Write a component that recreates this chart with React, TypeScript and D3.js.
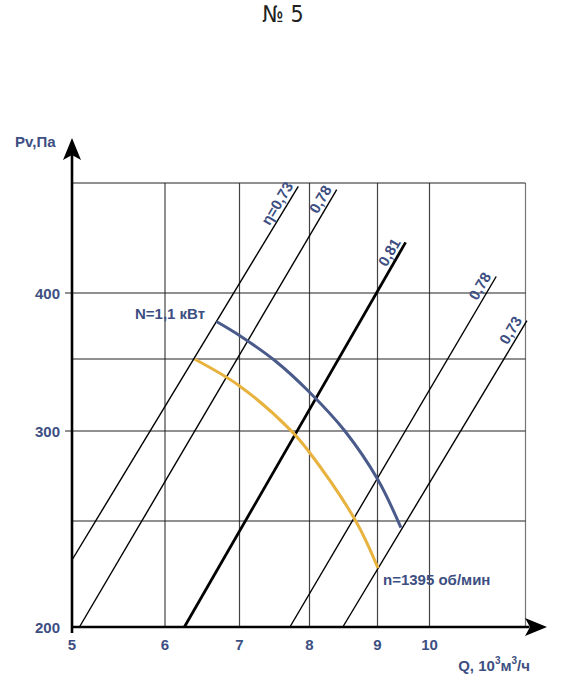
import { useEffect, useRef } from "react";
import * as d3 from "d3";

// axis values
const qTicks = [5, 6, 7, 8, 9, 10];
const qGrid = [6, 7, 8, 9, 10, 12];
const pTicks = [200, 300, 400];
const pGrid = [250, 300, 350, 400, 500];

// efficiency lines (Q, Pv at both ends)
const etaValues = [0.73, 0.78, 0.81, 0.78, 0.73];
const etaLabels = ["η=0,73", "0,78", "0,81", "0,78", "0,73"];
const etaFrom: [number, number][] = [
  [5, 231.6],
  [5.08, 200],
  [6.26, 200],
  [7.72, 200],
  [8.49, 200],
];
const etaTo: [number, number][] = [
  [7.84, 497],
  [8.4, 494],
  [9.54, 446],
  [11.39, 415],
  [12.03, 379],
];

// fan curves
const upperQ = [6.69, 7.0, 7.53, 7.99, 8.52, 9.0, 9.45];
const upperP = [378.4, 367.8, 347.9, 327.4, 300, 273.3, 246.9];
const lowerQ = [6.4, 7.0, 7.74, 7.99, 8.68, 9.01];
const lowerP = [349.8, 331.3, 300.1, 288.6, 250, 227.8];

const TEXT = "#3d4f82";
const FONT = "'Liberation Sans', Arial, sans-serif";

export default function App() {
  const svgRef = useRef<SVGSVGElement>(null);

  useEffect(() => {
    if (!svgRef.current) return;
    const svg = d3.select(svgRef.current);
    svg.selectAll("*").remove();

    // the printed chart is log-log but hand drawn, so map tick to tick
    const x = d3
      .scaleLinear()
      .domain([5, 6, 7, 8, 9, 10, 12])
      .range([72, 165, 239.5, 309.5, 377.5, 429.5, 525.5]);
    const y = d3
      .scaleLinear()
      .domain([200, 250, 300, 350, 400, 500])
      .range([627, 521, 431, 359, 293, 183]);

    const x0 = x(5);
    const x1 = x(12);
    const y0 = y(200);
    const y1 = y(500);

    // title
    svg
      .append("text")
      .attr("x", 283)
      .attr("y", 22)
      .attr("text-anchor", "middle")
      .attr("font-family", "'Liberation Sans Narrow', 'DejaVu Sans Condensed', sans-serif")
      .attr("font-size", "23px")
      .attr("fill", "#231f20")
      .text("№ 5");

    // grid
    svg
      .append("g")
      .selectAll("line")
      .data(qGrid)
      .join("line")
      .attr("x1", (d) => x(d))
      .attr("x2", (d) => x(d))
      .attr("y1", y1)
      .attr("y2", y0)
      .attr("stroke", (d) => (d === 12 ? "#777" : "#444"))
      .attr("stroke-width", 1.2);

    svg
      .append("g")
      .selectAll("line")
      .data(pGrid)
      .join("line")
      .attr("x1", (d) => (pTicks.includes(d) ? x0 - 7 : x0))
      .attr("x2", x1)
      .attr("y1", (d) => y(d))
      .attr("y2", (d) => y(d))
      .attr("stroke", "#222")
      .attr("stroke-width", 1.2);

    // efficiency lines
    const maxEta = d3.max(etaValues)!;
    const eta = svg.append("g");
    etaValues.forEach((v, i) => {
      const ax = x(etaFrom[i][0]);
      const ay = y(etaFrom[i][1]);
      const bx = x(etaTo[i][0]);
      const by = y(etaTo[i][1]);
      eta
        .append("line")
        .attr("x1", ax)
        .attr("y1", ay)
        .attr("x2", bx)
        .attr("y2", by)
        .attr("stroke", "#000")
        .attr("stroke-width", v === maxEta ? 2.8 : 1.4);
      const angle = (Math.atan2(by - ay, bx - ax) * 180) / Math.PI;
      eta
        .append("text")
        .attr("transform", `translate(${bx},${by}) rotate(${angle})`)
        .attr("dx", -2)
        .attr("dy", -4)
        .attr("text-anchor", "end")
        .attr("font-family", FONT)
        .attr("font-weight", "bold")
        .attr("font-size", "15px")
        .attr("fill", TEXT)
        .text(etaLabels[i]);
    });

    // fan curves
    const line = d3
      .line<[number, number]>()
      .x((d) => x(d[0]))
      .y((d) => y(d[1]))
      .curve(d3.curveCatmullRom.alpha(0.5));

    svg
      .append("path")
      .attr("d", line(lowerQ.map((q, i) => [q, lowerP[i]]))!)
      .attr("fill", "none")
      .attr("stroke", "#e8b23f")
      .attr("stroke-width", 3);

    svg
      .append("path")
      .attr("d", line(upperQ.map((q, i) => [q, upperP[i]]))!)
      .attr("fill", "none")
      .attr("stroke", "#4a5a8a")
      .attr("stroke-width", 3);

    // axes
    svg
      .append("line")
      .attr("x1", x0)
      .attr("x2", x1 + 4)
      .attr("y1", y0)
      .attr("y2", y0)
      .attr("stroke", "#000")
      .attr("stroke-width", 2.6);
    svg
      .append("line")
      .attr("x1", x0)
      .attr("x2", x0)
      .attr("y1", y0 + 6)
      .attr("y2", 150)
      .attr("stroke", "#000")
      .attr("stroke-width", 2.6);

    const tipX = 547;
    svg
      .append("path")
      .attr(
        "d",
        `M${tipX},${y0} L${tipX - 22},${y0 - 9} L${tipX - 17},${y0} L${tipX - 22},${y0 + 9} Z`
      )
      .attr("fill", "#000");
    const tipY = 138;
    svg
      .append("path")
      .attr(
        "d",
        `M${x0},${tipY} L${x0 - 9},${tipY + 22} L${x0},${tipY + 17} L${x0 + 9},${tipY + 22} Z`
      )
      .attr("fill", "#000");

    const label = (sel: d3.Selection<SVGTextElement, any, any, any>) =>
      sel
        .attr("font-family", FONT)
        .attr("font-weight", "bold")
        .attr("font-size", "15px")
        .attr("fill", TEXT);

    // tick labels
    svg
      .append("g")
      .selectAll("text")
      .data(qTicks)
      .join("text")
      .attr("x", (d) => x(d))
      .attr("y", y0 + 23)
      .attr("text-anchor", "middle")
      .call(label)
      .text((d) => d);

    svg
      .append("g")
      .selectAll("text")
      .data(pTicks)
      .join("text")
      .attr("x", x0 - 12)
      .attr("y", (d) => y(d) + 5.5)
      .attr("text-anchor", "end")
      .call(label)
      .text((d) => d);

    // axis titles
    svg.append("text").attr("x", 15).attr("y", 147).call(label).text("Pv,Па");

    const qt = svg
      .append("text")
      .attr("x", 530)
      .attr("y", 671)
      .attr("text-anchor", "end")
      .call(label);
    qt.append("tspan").text("Q, 10");
    qt.append("tspan").attr("font-size", "10px").attr("dy", -7).text("3");
    qt.append("tspan").attr("dy", 7).text("м");
    qt.append("tspan").attr("font-size", "10px").attr("dy", -7).text("3");
    qt.append("tspan").attr("dy", 7).text("/ч");

    // curve labels
    svg.append("text").attr("x", 135).attr("y", 319).call(label).text("N=1,1 кВт");
    svg
      .append("text")
      .attr("x", 383)
      .attr("y", 585)
      .call(label)
      .text("n=1395 об/мин");
  }, []);

  return (
    <svg
      ref={svgRef}
      width={570}
      height={696}
      style={{ position: "absolute", left: 0, top: 0, background: "#fff" }}
      role="img"
      aria-label="Fan performance chart No 5"
    />
  );
}
